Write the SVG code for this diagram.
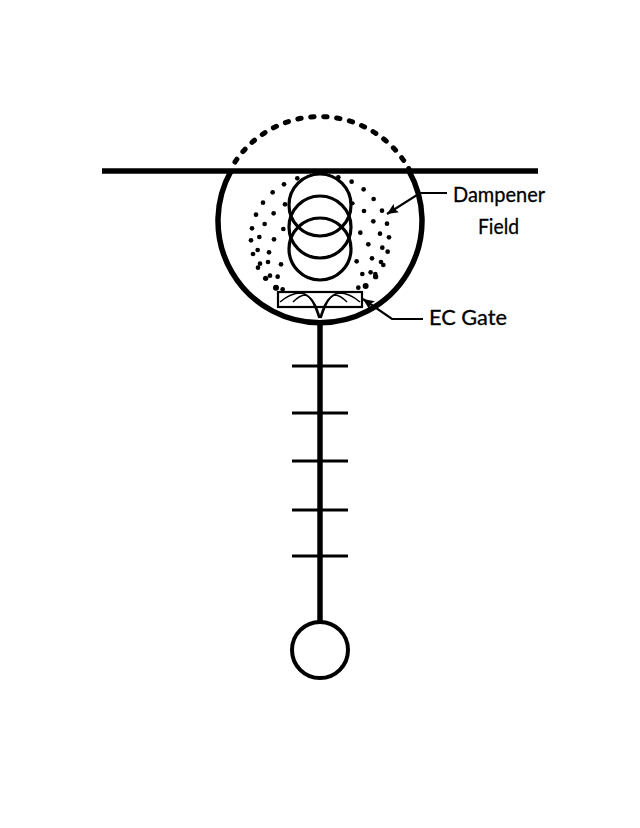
<svg xmlns="http://www.w3.org/2000/svg" width="640" height="828" viewBox="0 0 640 828">
<style>
.thick{fill:none;stroke:#000;stroke-width:5.5}
.ring{fill:none;stroke:#000;stroke-width:3.2}
.tick{fill:none;stroke:#000;stroke-width:3}
.thin{fill:none;stroke:#000;stroke-width:1.6}
.lead{fill:none;stroke:#000;stroke-width:2.2}
.lbl{font-family:"Lato","Liberation Sans",sans-serif;font-size:21px;fill:#000;stroke:#000;stroke-width:.3}
.d{fill:#000}
</style>
<defs>
<marker id="ah" markerUnits="userSpaceOnUse" markerWidth="12" markerHeight="10" refX="11" refY="5" orient="auto"><path d="M0 0L11 5L0 10L2 5Z" fill="#000"/></marker>
</defs>
<rect width="640" height="828" fill="#fff"/>
<g id="field-shell">
<path class="thick" d="M231 171A102 102 0 1 0 409 171"/>
<path d="M235 162A102 102 0 0 1 409 169" fill="none" stroke="#000" stroke-width="5" stroke-linecap="round" stroke-dasharray="3.4 9.6"/>
</g>
<g id="bar"><path class="thick" d="M102 171H538"/></g>
<g id="coils">
<circle class="ring" cx="320" cy="205" r="31"/>
<circle class="ring" cx="320" cy="227" r="31"/>
<circle class="ring" cx="320" cy="249" r="31"/>
</g>
<g id="dampener-dots" transform="translate(200 100) scale(.3333)" class="d">
<circle cx="252" cy="253" r="7"/><circle cx="218" cy="277" r="7"/><circle cx="189" cy="308" r="7"/><circle cx="168" cy="344" r="7"/><circle cx="156" cy="385" r="7"/><circle cx="153" cy="421" r="7"/><circle cx="159" cy="462" r="7"/><circle cx="174" cy="503" r="7"/><circle cx="197" cy="535" r="8"/>
<circle cx="292" cy="235" r="7"/><circle cx="415" cy="232" r="7"/><circle cx="455" cy="245" r="7"/><circle cx="491" cy="268" r="7"/><circle cx="521" cy="297" r="7"/><circle cx="546" cy="332" r="7"/><circle cx="561" cy="371" r="7"/><circle cx="567" cy="412" r="7"/><circle cx="563" cy="455" r="7"/><circle cx="550" cy="495" r="7"/><circle cx="527" cy="530" r="8"/><circle cx="497" cy="558" r="9"/>
<circle cx="255" cy="313" r="7"/><circle cx="221" cy="340" r="7"/><circle cx="194" cy="372" r="7"/><circle cx="178" cy="411" r="7"/><circle cx="173" cy="450" r="7"/><circle cx="180" cy="491" r="7"/><circle cx="228" cy="563" r="9"/>
<circle cx="250" cy="387" r="7"/><circle cx="222" cy="418" r="7"/><circle cx="207" cy="457" r="7"/><circle cx="204" cy="486" r="7"/><circle cx="210" cy="527" r="7"/><circle cx="233" cy="530" r="7"/><circle cx="243" cy="493" r="7"/><circle cx="248" cy="568" r="7"/>
<circle cx="458" cy="310" r="6"/><circle cx="492" cy="333" r="7"/><circle cx="520" cy="364" r="7"/><circle cx="540" cy="401" r="7"/><circle cx="547" cy="443" r="7"/><circle cx="543" cy="486" r="7"/><circle cx="526" cy="522" r="7"/><circle cx="512" cy="517" r="7"/><circle cx="487" cy="522" r="7"/><circle cx="516" cy="475" r="7"/><circle cx="505" cy="433" r="7"/><circle cx="481" cy="398" r="7"/><circle cx="470" cy="484" r="7"/><circle cx="475" cy="563" r="7"/>
</g>
<g id="ec-gate">
<rect x="278" y="292" width="84" height="15" fill="none" stroke="#000" stroke-width="2.2"/>
<path class="thin" d="M280 302C287 296 294 293 301 293C311 294 315 306 319 318"/>
<path class="thin" d="M293 302C297 298 301 295 305 295C313 297 317 307 320 318"/>
<path class="thin" d="M360 302C353 296 346 293 339 293C329 294 325 306 321 318"/>
<path class="thin" d="M347 302C343 298 339 295 335 295C327 297 323 307 320 318"/>
</g>
<g id="stem">
<path class="thick" d="M320 322V622"/>
<path class="tick" d="M292 366H348M292 413H348M292 461H348M292 510H348M292 556H348"/>
</g>
<g id="bulb"><circle cx="320" cy="650" r="28" fill="none" stroke="#000" stroke-width="4"/></g>
<g id="connectors">
<path class="lead" marker-end="url(#ah)" d="M447 193H420L387 214"/>
<path class="lead" marker-end="url(#ah)" d="M423 319H392L363 299"/>
</g>
<g id="label-dampener">
<text class="lbl" x="453" y="202" textLength="92" lengthAdjust="spacingAndGlyphs">Dampener</text>
<text class="lbl" x="478" y="234" textLength="41" lengthAdjust="spacingAndGlyphs">Field</text>
</g>
<g id="label-ec"><text class="lbl" x="429" y="325" textLength="78" lengthAdjust="spacingAndGlyphs">EC Gate</text></g>
</svg>
